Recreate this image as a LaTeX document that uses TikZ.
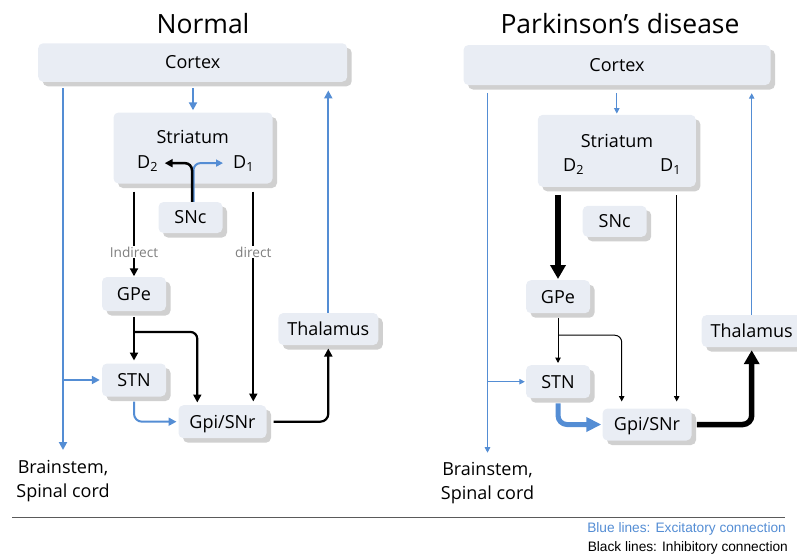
\documentclass[tikz,border=0pt]{standalone}
\usepackage{fontspec}
\setmainfont{Open Sans}
\newfontfamily\legendfont{Liberation Sans}
\usetikzlibrary{arrows.meta,shadows,calc}
\definecolor{boxfill}{RGB}{233,237,244}
\definecolor{shadowc}{RGB}{208,208,208}
\definecolor{exc}{RGB}{84,141,212}
\definecolor{labgray}{RGB}{128,128,128}
\definecolor{sepc}{RGB}{90,90,90}
\begin{document}
\begin{tikzpicture}[x=1pt,y=-1pt,
  box/.style={rectangle, rounded corners=5pt, fill=boxfill, draw=none,
    drop shadow={shadow xshift=4.5pt, shadow yshift=-4.5pt, fill=shadowc, opacity=1},
    inner sep=0pt, text height=12.8pt, text depth=0pt, font=\fontsize{18}{22}\selectfont},
  sz/.style 2 args={minimum width=#1pt, minimum height=#2pt},
  lbl/.style={inner sep=0pt, font=\fontsize{18}{22}\selectfont},
  bst/.style={inner sep=0pt, align=center, anchor=north, font=\fontsize{18}{24}\selectfont},
  ttl/.style={inner sep=0pt, anchor=base, font=\fontsize{26.5}{32}\selectfont},
  ex/.style={draw=exc, line width=2pt, -{Triangle[length=8pt,width=8pt]}},
  inh/.style={draw=black, line width=2.2pt, -{Triangle[length=8pt,width=8pt]}},
  exthin/.style={draw=exc, line width=1pt, -{Triangle[length=5.5pt,width=5.5pt]}},
  inhthin/.style={draw=black, line width=1pt, -{Triangle[length=5.5pt,width=5.5pt]}},
  exthick/.style={draw=exc, line width=5pt, -{Triangle[length=15pt,width=14pt]}},
  inhthick/.style={draw=black, line width=5.5pt, -{Triangle[length=14pt,width=15pt]}},
  pathlbl/.style={fill=white, inner sep=0.5pt, text=labgray, font=\fontsize{13.7}{16}\selectfont},
  legend/.style={inner sep=0pt, anchor=base east, font=\legendfont\fontsize{13.7}{16}\selectfont}]
\useasboundingbox (0,0) rectangle (797,554);

% ---------------- Normal ----------------
\node[ttl] (tN) at (203,33) {Normal};
\node[box, sz={309}{38.5}] (cortexL) at (192.7,62.5) {Cortex};
\node[box, sz={159}{71}] (striL) at (193,148) {};
\node[lbl, anchor=base] (striTL) at (192.7,143) {Striatum};
\node[lbl, anchor=base west] (d2L) at (137,168) {D\textsubscript{2}};
\node[lbl, anchor=base west] (d1L) at (233,168) {D\textsubscript{1}};
\node[box, sz={64}{31}] (sncL) at (190.5,217.5) {SNc};
\node[box, sz={64}{34}] (gpeL) at (134,294) {GPe};
\node[box, sz={64}{33}] (stnL) at (134,380) {STN};
\node[box, sz={88}{33}] (gpiL) at (222.5,421.7) {Gpi/SNr};
\node[box, sz={100}{32}] (thalL) at (328.3,329) {Thalamus};
\node[bst] (bsL) at (63,460) {Brainstem,\\Spinal cord};

\draw[ex, shorten <=6.5pt, shorten >=2pt] (cortexL.south -| striL.north) -- (striL.north);
\draw[ex, shorten <=6.5pt, shorten >=10pt] (cortexL.south -| bsL.north) -- (bsL.north);
\draw[ex, shorten >=2pt] (bsL.north |- stnL.west) -- (stnL.west);
\draw[ex, shorten >=8.5pt] (thalL.north) -- (thalL.north |- cortexL.south);
\draw[draw=exc, line width=2pt, rounded corners=7pt, -{Triangle[length=7pt,width=7pt]}, shorten >=10pt]
  ([xshift=3pt]sncL.north) |- (d1L.west);
\draw[draw=black, line width=2.5pt, rounded corners=7pt, -{Triangle[length=8pt,width=8pt]}, shorten >=6.5pt]
  ([xshift=1.5pt]sncL.north) |- (d2L.east);
\draw[inh, shorten <=8pt, shorten >=0.5pt] (striL.south -| gpeL.north) -- node[pathlbl, pos=0.733] {Indirect} (gpeL.north);
\coordinate (dirEndL) at ([xshift=30.8pt]gpiL.north);
\draw[inh, shorten <=8pt, shorten >=3.5pt] (striL.south -| dirEndL) -- node[pathlbl, pos=0.309] {direct} (dirEndL);
\draw[inh, shorten <=5.7pt, shorten >=2.8pt] (gpeL.south) -- (stnL.north);
\draw[inh, rounded corners=7pt, shorten >=2.5pt] ([yshift=-20.7pt]gpeL.south) -| ([xshift=-25.2pt]gpiL.north);
\draw[ex, rounded corners=8pt, shorten <=5pt, shorten >=1.8pt] (stnL.south) |- (gpiL.west);
\draw[inh, rounded corners=8pt, shorten <=6.8pt, shorten >=3.3pt] (gpiL.east) -| (thalL.south);

% ---------------- Parkinson's ----------------
\node[ttl] (tP) at (620,33) {Parkinson’s disease};
\node[box, sz={307}{40}] (cortexR) at (617,65) {Cortex};
\node[box, sz={158}{72}] (striR) at (616.8,150.8) {};
\node[lbl, anchor=base] (striTR) at (617,147) {Striatum};
\node[lbl, anchor=base west] (d2R) at (563,171) {D\textsubscript{2}};
\node[lbl, anchor=base west] (d1R) at (660,171) {D\textsubscript{1}};
\node[box, sz={64}{31}] (sncR) at (614.7,221.3) {SNc};
\node[box, sz={64}{33}] (gpeR) at (558,296.7) {GPe};
\node[box, sz={64}{33}] (stnR) at (558,381.7) {STN};
\node[box, sz={89}{32}] (gpiR) at (647,424.5) {Gpi/SNr};
\node[box, sz={100}{32}] (thalR) at (751.7,331) {Thalamus};
\node[bst] (bsR) at (487.5,462) {Brainstem,\\Spinal cord};

\draw[exthin, shorten <=8pt, shorten >=1pt] (cortexR.south -| striR.north) -- (striR.north);
\draw[exthin, shorten <=7.7pt, shorten >=9.3pt] (cortexR.south -| bsR.north) -- (bsR.north);
\draw[exthin, shorten >=1pt] (bsR.north |- stnR.west) -- (stnR.west);
\draw[exthin, shorten >=8pt] (thalR.north) -- (thalR.north |- cortexR.south);
\draw[inhthick, shorten <=8.2pt, shorten >=1pt] (striR.south -| gpeR.north) -- (gpeR.north);
\coordinate (dirEndR) at ([xshift=29.7pt]gpiR.north);
\draw[inhthin, shorten <=8.2pt, shorten >=6.8pt] (striR.south -| dirEndR) -- (dirEndR);
\draw[inhthin, shorten <=4.8pt, shorten >=2pt] (gpeR.south) -- (stnR.north);
\draw[inhthin, rounded corners=7pt, shorten >=6.8pt] ([yshift=-21.8pt]gpeR.south) -| ([xshift=-25.3pt]gpiR.north);
\draw[exthick, rounded corners=9pt, shorten <=5pt, shorten >=1pt] (stnR.south) |- (gpiR.west);
\draw[inhthick, rounded corners=9pt, shorten <=5.2pt, shorten >=3pt] (gpiR.east) -| (thalR.south);

% ---------------- legend ----------------
\coordinate (sepA) at (12,517);
\coordinate (sepB) at (785,517);
\draw[sepc, line width=1pt] (sepA) -- (sepB);
\node[legend, text=exc] (legE) at (786,532) {Blue lines: Excitatory connection};
\node[legend, text=black] (legI) at (788,551) {Black lines: Inhibitory connection};
\end{tikzpicture}
\end{document}
